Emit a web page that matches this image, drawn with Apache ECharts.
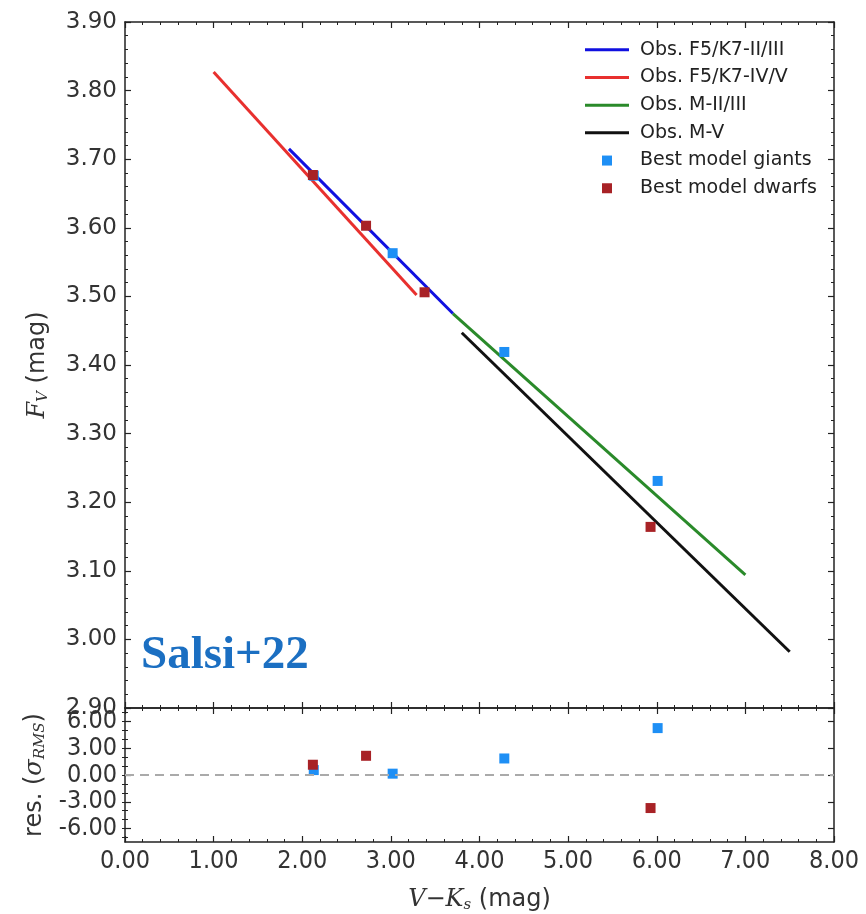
<!DOCTYPE html>
<html>
<head>
<meta charset="utf-8">
<script src="https://cdn.jsdelivr.net/npm/echarts@6/dist/echarts.min.js"></script>
<style>
  html, body { margin: 0; padding: 0; background: #fff; }
  #chart { width: 866px; height: 914px; }
</style>
</head>
<body>
<div id="chart"></div>
<script>
// fitted relations (end points)
var fgGiantsX = [1.85, 3.70];
var fgGiantsY = [3.715, 3.475];
var fgDwarfsX = [1.00, 3.29];
var fgDwarfsY = [3.827, 3.502];
var mGiantsX = [3.70, 7.00];
var mGiantsY = [3.475, 3.094];
var mDwarfsX = [3.80, 7.50];
var mDwarfsY = [3.447, 2.982];

// best models
var giantsX = [2.13, 3.02, 4.28, 6.01];
var giantsY = [3.676, 3.563, 3.419, 3.231];
var giantsRes = [0.55, 0.15, 1.85, 5.25];
var dwarfsX = [2.12, 2.72, 3.38, 5.93];
var dwarfsY = [3.677, 3.603, 3.506, 3.164];
var dwarfsResX = [2.12, 2.72, 5.93];
var dwarfsRes = [1.15, 2.15, -3.70];

// tick labels
var resTicks = [-6, -3, 0, 3, 6];
var resMinor = [-7, -6, -5, -4, -3, -2, -1, 0, 1, 2, 3, 4, 5, 6, 7];

var seriesNames = ['Obs. F5/K7-II/III', 'Obs. F5/K7-IV/V', 'Obs. M-II/III', 'Obs. M-V',
                   'Best model giants', 'Best model dwarfs'];

function pairs(xs, ys) {
  return xs.map(function (x, i) { return [x, ys[i]]; });
}

var chart = echarts.init(document.getElementById('chart'));

var frame = { show: true, onZero: false, lineStyle: { color: '#222', width: 1.5 } };
var tickFont = { color: '#333', fontFamily: 'DejaVu Sans', fontSize: 23 };
var condFont = { color: '#333', fontFamily: 'DejaVu Sans Condensed', fontSize: 25 };
var richName = {
  it: { fontFamily: 'DejaVu Serif', fontStyle: 'italic', fontSize: 24, color: '#333' },
  sub: { fontFamily: 'DejaVu Serif', fontStyle: 'italic', fontSize: 15, color: '#333', padding: [12, 0, 0, 0] },
  n: { fontFamily: 'DejaVu Sans', fontSize: 24, color: '#333' }
};
var lineIcon = 'path://M0 0H44V3H0Z';
var boxIcon = 'path://M0 0H10V10H0Z';

function xAx(grid, pos, labels) {
  return {
    type: 'value', gridIndex: grid, position: pos, min: 0, max: 8, interval: 1,
    axisLine: frame,
    axisTick: { show: true, inside: true, length: 6, lineStyle: { color: '#222', width: 1.2 } },
    minorTick: { show: true, splitNumber: 5, length: 3, lineStyle: { color: '#222', width: 1 } },
    splitLine: { show: false },
    axisLabel: labels ? Object.assign({ margin: 7, formatter: function (v) { return v.toFixed(2); } }, condFont)
                      : { show: false }
  };
}

function resAx(pos, labels) {
  return {
    type: 'value', gridIndex: 1, position: pos, min: -7.5, max: 7.5,
    axisLine: frame,
    axisTick: { show: true, inside: true, length: 6, customValues: resTicks, lineStyle: { color: '#222', width: 1.2 } },
    splitLine: { show: false },
    axisLabel: labels ? Object.assign({ margin: 8, hideOverlap: false, showMinLabel: true, showMaxLabel: true,
                                        customValues: resTicks, formatter: function (v) { return v.toFixed(2); } }, condFont)
                      : { show: false }
  };
}

function resMinorAx(pos) {
  return {
    type: 'value', gridIndex: 1, position: pos, min: -7.5, max: 7.5,
    axisLine: { show: false },
    axisTick: { show: true, inside: true, length: 3, customValues: resMinor, lineStyle: { color: '#222', width: 1 } },
    splitLine: { show: false }, axisLabel: { show: false }
  };
}

var option = {
  animation: false,
  backgroundColor: '#fff',
  grid: [
    { left: 125, right: 32, top: 22, height: 686 },
    { left: 125, right: 32, top: 708, height: 138 }
  ],
  legend: {
    orient: 'vertical', left: 580, top: 35, itemWidth: 44, itemHeight: 10, itemGap: 8.2,
    textStyle: { fontFamily: 'DejaVu Sans', fontSize: 19, lineHeight: 19.5, color: '#222', padding: [0, 0, 0, 6] },
    data: [
      { name: seriesNames[0], icon: lineIcon },
      { name: seriesNames[1], icon: lineIcon },
      { name: seriesNames[2], icon: lineIcon },
      { name: seriesNames[3], icon: lineIcon },
      { name: seriesNames[4], icon: boxIcon },
      { name: seriesNames[5], icon: boxIcon }
    ]
  },
  xAxis: [
    xAx(0, 'bottom', false),
    xAx(0, 'top', false),
    Object.assign(xAx(1, 'bottom', true), {
      name: '{it|V}{n|−}{it|K}{sub|s}{n| (mag)}', nameLocation: 'middle', nameGap: 44,
      nameTextStyle: { rich: richName }
    }),
    xAx(1, 'top', false)
  ],
  yAxis: [
    {
      type: 'value', gridIndex: 0, position: 'left', min: 2.9, max: 3.9, interval: 0.1,
      axisLine: frame,
      axisTick: { show: true, inside: true, length: 6, lineStyle: { color: '#222', width: 1.2 } },
      minorTick: { show: true, splitNumber: 5, length: 3, lineStyle: { color: '#222', width: 1 } },
      splitLine: { show: false },
      axisLabel: Object.assign({ margin: 8, formatter: function (v) { return v.toFixed(2); } }, tickFont),
      name: '{it|F}{sub|V}{n| (mag)}', nameLocation: 'middle', nameGap: 74, nameRotate: 90,
      nameTextStyle: { rich: richName }
    },
    {
      type: 'value', gridIndex: 0, position: 'right', min: 2.9, max: 3.9, interval: 0.1,
      axisLine: frame,
      axisTick: { show: true, inside: true, length: 6, lineStyle: { color: '#222', width: 1.2 } },
      minorTick: { show: true, splitNumber: 5, length: 3, lineStyle: { color: '#222', width: 1 } },
      splitLine: { show: false }, axisLabel: { show: false }
    },
    Object.assign(resAx('left', true), {
      name: '{n|res. (}{it|σ}{sub|RMS}{n|)}', nameLocation: 'middle', nameGap: 74, nameRotate: 90,
      nameTextStyle: { rich: richName }
    }),
    resAx('right', false),
    resMinorAx('left'),
    resMinorAx('right')
  ],
  graphic: [{
    type: 'text', left: 141, top: 632,
    style: { text: 'Salsi+22', fill: '#1b6fc2', font: 'bold 47px "Liberation Serif"' }
  }],
  series: [
    { name: seriesNames[0], type: 'line', xAxisIndex: 0, yAxisIndex: 0, data: pairs(fgGiantsX, fgGiantsY),
      symbol: 'none', lineStyle: { color: '#1010e0', width: 3 }, itemStyle: { color: '#1010e0' }, z: 2 },
    { name: seriesNames[1], type: 'line', xAxisIndex: 0, yAxisIndex: 0, data: pairs(fgDwarfsX, fgDwarfsY),
      symbol: 'none', lineStyle: { color: '#e8302e', width: 3 }, itemStyle: { color: '#e8302e' }, z: 2 },
    { name: seriesNames[2], type: 'line', xAxisIndex: 0, yAxisIndex: 0, data: pairs(mGiantsX, mGiantsY),
      symbol: 'none', lineStyle: { color: '#2a8a2a', width: 3 }, itemStyle: { color: '#2a8a2a' }, z: 2 },
    { name: seriesNames[3], type: 'line', xAxisIndex: 0, yAxisIndex: 0, data: pairs(mDwarfsX, mDwarfsY),
      symbol: 'none', lineStyle: { color: '#111', width: 3 }, itemStyle: { color: '#111' }, z: 2 },
    { name: seriesNames[4], type: 'scatter', xAxisIndex: 0, yAxisIndex: 0, data: pairs(giantsX, giantsY),
      symbol: 'rect', symbolSize: 10, itemStyle: { color: '#1e8ff5', opacity: 1 }, z: 3 },
    { name: seriesNames[5], type: 'scatter', xAxisIndex: 0, yAxisIndex: 0, data: pairs(dwarfsX, dwarfsY),
      symbol: 'rect', symbolSize: 10, itemStyle: { color: '#a82226', opacity: 1 }, z: 4 },
    { name: seriesNames[4], type: 'scatter', xAxisIndex: 2, yAxisIndex: 2, data: pairs(giantsX, giantsRes),
      symbol: 'rect', symbolSize: 10, itemStyle: { color: '#1e8ff5', opacity: 1 }, z: 3,
      markLine: {
        silent: true, symbol: 'none', label: { show: false },
        lineStyle: { color: '#aaa', type: [9, 6], width: 2 },
        data: [{ yAxis: 0 }]
      } },
    { name: seriesNames[5], type: 'scatter', xAxisIndex: 2, yAxisIndex: 2, data: pairs(dwarfsResX, dwarfsRes),
      symbol: 'rect', symbolSize: 10, itemStyle: { color: '#a82226', opacity: 1 }, z: 4 }
  ]
};

chart.setOption(option);
</script>
</body>
</html>
